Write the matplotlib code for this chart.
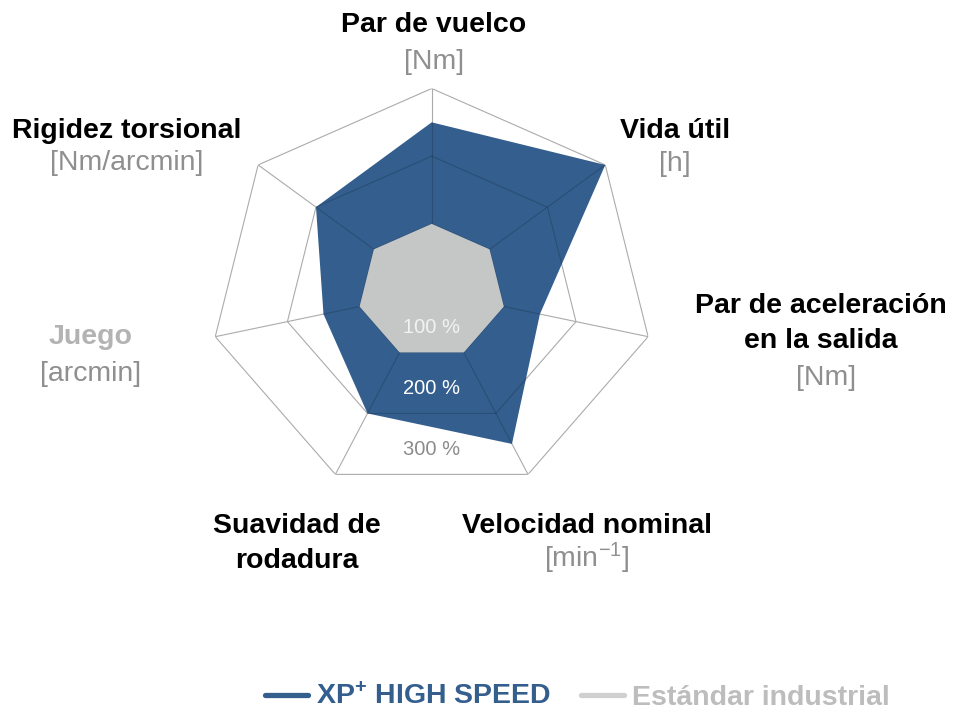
import numpy as np
import matplotlib
matplotlib.use("Agg")
import matplotlib.pyplot as plt
from matplotlib.lines import Line2D

plt.rcParams['font.family'] = ['Liberation Sans', 'DejaVu Sans']
plt.rcParams['mathtext.fontset'] = 'custom'
plt.rcParams['mathtext.rm'] = 'Liberation Sans'
plt.rcParams['mathtext.bf'] = 'Liberation Sans:bold'
plt.rcParams['mathtext.default'] = 'rm'

# ---- data ----
categories = ["Par de vuelco", "Vida útil", "Par de aceleración\nen la salida",
              "Velocidad nominal", "Suavidad de\nrodadura", "Juego", "Rigidez torsional"]
units = ["[Nm]", "[h]", "[Nm]", r"[min$^{-1}$]", "", "[arcmin]", "[Nm/arcmin]"]
xp_values = [2.5, 3.0, 1.5, 2.5, 2.0, 1.5, 2.0]        # x100 %
std_values = [1.0, 1.0, 1.0, 1.0, 1.0, 1.0, 1.0]
ring_levels = [1, 2, 3]
ring_labels = ["100 %", "200 %", "300 %"]
series_names = [r"XP$^{\mathbf{+}}$ HIGH SPEED", "Estándar industrial"]

BLUE = "#335E8D"
GREY_FILL = "#C5C6C6"

W, H = 958, 713
fig = plt.figure(figsize=(W / 100, H / 100), dpi=100)

# polar axes (slightly wider than tall, as in the reference)
cx, cy = 431.7, 291.5
a, b = 222, 203
ax = fig.add_axes([(cx - a) / W, 1 - (cy + b) / H, 2 * a / W, 2 * b / H],
                  projection='polar')
ax.set_aspect('auto')
ax.set_theta_zero_location('N')
ax.set_theta_direction(-1)
ax.set_ylim(0, 3)
ax.grid(False)
ax.spines['polar'].set_visible(False)
ax.set_xticks([])
ax.set_yticks([])
ax.patch.set_alpha(0)

n = len(categories)
angles = np.linspace(0, 2 * np.pi, n, endpoint=False)
ang_c = np.append(angles, angles[0])


def draw_grid(**kw):
    out = []
    for lvl in ring_levels:
        out += ax.plot(ang_c, [lvl] * (n + 1), **kw)
    for ang in angles:
        out += ax.plot([ang, ang], [0, ring_levels[-1]], **kw)
    return out


# grid below everything (light grey on white)
draw_grid(color='#ABABAB', lw=0.8, zorder=0)

# XP+ polygon
xp_c = np.append(xp_values, xp_values[0])
blue_poly = ax.fill(ang_c, xp_c, color=BLUE, lw=0, zorder=1)[0]

# subtle darker grid lines visible through the blue area
for ln in draw_grid(color='black', alpha=0.17, lw=0.8, zorder=2):
    ln.set_clip_path(blue_poly)

# standard polygon
std_c = np.append(std_values, std_values[0])
ax.fill(ang_c, std_c, color=GREY_FILL, lw=0, zorder=3)

# ring labels
ring_colors = ["#F2F2F2", "white", "#8C8C8C"]
for lvl, lab, col in zip(ring_levels, ring_labels, ring_colors):
    ax.text(np.pi, 0.901 * lvl - 0.37, lab, ha='center', va='center',
            fontsize=14.5, color=col, zorder=5)

# category labels (pixel positions of baselines)
title_fs = 20.5
label_pos = [(434, 32, 69), (675, 138, 171), (821, 313, 385),
             (587, 533, 567), (297, 533, None), (91, 344, 381), (127, 138, 170)]
title_colors = ["black", "black", "black", "black", "black", "#B3B3B3", "black"]
for cat, unit, (x, yb, yu), tc in zip(categories, units, label_pos, title_colors):
    lines = cat.split("\n")
    for i, ln in enumerate(lines):
        fig.text(x / W, 1 - (yb + 35 * i) / H, ln, ha='center', va='baseline',
                 fontsize=title_fs, fontweight='bold', color=tc)
    if unit and yu is not None:
        fig.text(x / W + (5 / W if unit == "[Nm]" and len(lines) > 1 else 0),
                 1 - yu / H, unit, ha='center', va='baseline',
                 fontsize=title_fs, color="#8F8F8F")

# legend
handles = [Line2D([], [], color=BLUE, lw=3.8, solid_capstyle='round'),
           Line2D([], [], color="#D0D0D0", lw=3.8, solid_capstyle='round')]
leg = fig.legend(handles, series_names, loc='center', bbox_to_anchor=(577.5 / W, 1 - 697 / H),
                 ncol=2, frameon=False, handlelength=1.5, handletextpad=0.28,
                 columnspacing=1.05, borderpad=0, prop=dict(size=20.5, weight='bold'))
for txt, col in zip(leg.get_texts(), [BLUE, "#BDBDBD"]):
    txt.set_color(col)

fig.savefig("out.png", dpi=100)
